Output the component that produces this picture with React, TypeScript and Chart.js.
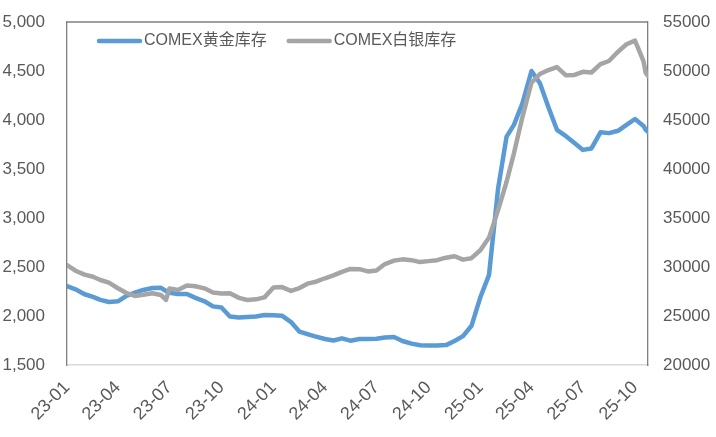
import React, { useEffect, useRef } from 'react';
import { Chart, registerables } from 'chart.js';

Chart.register(...registerables);

// Observation dates (YY-MM-DD)
const dates: string[] = [
  '23-01-01', '23-01-16', '23-02-01', '23-02-16', '23-03-01', '23-03-16',
  '23-04-01', '23-04-16', '23-05-01', '23-05-16', '23-06-01', '23-06-16', '23-06-25',
  '23-07-01', '23-07-16', '23-08-01', '23-08-16', '23-09-01', '23-09-16',
  '23-10-01', '23-10-16', '23-11-01', '23-11-16', '23-12-01', '23-12-16',
  '24-01-01', '24-01-16', '24-02-01', '24-02-16', '24-03-01', '24-03-16',
  '24-04-01', '24-04-16', '24-05-01', '24-05-16', '24-06-01', '24-06-16',
  '24-07-01', '24-07-16', '24-08-01', '24-08-16', '24-09-01', '24-09-16',
  '24-10-01', '24-10-16', '24-11-01', '24-11-16', '24-12-01', '24-12-16',
  '25-01-01', '25-01-16', '25-02-01', '25-02-16', '25-03-01', '25-03-16',
  '25-04-01', '25-04-16', '25-05-01', '25-05-16', '25-06-01', '25-06-16',
  '25-07-01', '25-07-16', '25-08-01', '25-08-16', '25-09-01', '25-09-16',
  '25-10-01', '25-10-16', '25-10-20', '25-10-24',
];

// COMEX gold inventory (left axis)
const goldStock: number[] = [
  2306, 2272, 2222, 2195, 2165, 2143,
  2150, 2205, 2238, 2266, 2286, 2288, 2255,
  2238, 2225, 2225, 2185, 2150, 2098,
  2086, 1995, 1985, 1990, 1995, 2010,
  2008, 2003, 1938, 1840, 1815, 1790,
  1765, 1750, 1772, 1748, 1766, 1766,
  1768, 1780, 1785, 1745, 1718, 1702,
  1698, 1698, 1703, 1745, 1795, 1900,
  2197, 2420, 3300, 3830, 3950, 4170,
  4500, 4374, 4130, 3900, 3835, 3765,
  3695, 3710, 3874, 3866, 3890, 3950,
  4010, 3940, 3900, 3880,
];

// COMEX silver inventory (right axis)
const silverStock: number[] = [
  30200, 29620, 29220, 29000, 28673, 28400,
  27830, 27340, 27041, 27160, 27313, 27143, 26650,
  27800, 27653, 28120, 28030, 27823, 27400,
  27300, 27313, 26850, 26633, 26700, 26900,
  27900, 27950, 27560, 27850, 28300, 28500,
  28850, 29150, 29500, 29800, 29780, 29550,
  29650, 30300, 30650, 30780, 30700, 30500,
  30600, 30700, 30950, 31100, 30750, 30900,
  31735, 33000, 35800, 38700, 41600, 45300,
  48800, 49700, 50100, 50400, 49560, 49600,
  49920, 49850, 50700, 51020, 51969, 52730,
  53100, 51000, 49800, 49500,
];

// Axis tick dates (quarter starts)
const tickDates: string[] = [
  '23-01-01', '23-04-01', '23-07-01', '23-10-01',
  '24-01-01', '24-04-01', '24-07-01', '24-10-01',
  '25-01-01', '25-04-01', '25-07-01', '25-10-01',
];

const seriesNames: string[] = ['COMEX黄金库存', 'COMEX白银库存'];
const seriesColors: string[] = ['#5B9BD5', '#A5A5A5'];

const leftRange: number[] = [1500, 5000, 500];
const rightRange: number[] = [20000, 55000, 5000];

const FONT = "'Liberation Sans', 'Noto Sans CJK SC', Arial, sans-serif";
const TEXT = '#595959';

const dayNum = (s: string): number => {
  const [yy, mm, dd] = s.split('-').map(Number);
  return Date.UTC(2000 + yy, mm - 1, dd) / 86400000;
};

const tickLabelMap = new Map<number, string>(tickDates.map((d) => [dayNum(d), d.slice(0, 5)]));

const framePlugin = {
  id: 'frameAndLegend',
  beforeDatasetsDraw(chart: any) {
    const { ctx, chartArea } = chart;
    ctx.save();
    ctx.strokeStyle = '#808080';
    ctx.lineWidth = 1.3;
    ctx.beginPath();
    ctx.moveTo(chartArea.left, chartArea.top);
    ctx.lineTo(chartArea.right, chartArea.top);
    ctx.stroke();
    ctx.restore();
  },
  afterDraw(chart: any) {
    const { ctx, chartArea } = chart;
    ctx.save();
    ctx.font = `16px ${FONT}`;
    ctx.textBaseline = 'middle';
    ctx.textAlign = 'left';
    let x = chartArea.left + 30;
    const y = chartArea.top + 19;
    chart.data.datasets.forEach((ds: any) => {
      ctx.strokeStyle = ds.borderColor;
      ctx.lineWidth = 4.5;
      ctx.lineCap = 'round';
      ctx.beginPath();
      ctx.moveTo(x + 2, y);
      ctx.lineTo(x + 43, y);
      ctx.stroke();
      ctx.fillStyle = TEXT;
      ctx.fillText(ds.label, x + 47, y);
      x += 47 + ctx.measureText(ds.label).width + 20;
    });
    ctx.restore();
  },
};

export default function App() {
  const ref = useRef<HTMLCanvasElement | null>(null);

  useEffect(() => {
    if (!ref.current) return;
    const xs = dates.map(dayNum);
    const chart = new Chart(ref.current, {
      type: 'line',
      data: {
        datasets: [
          {
            label: seriesNames[0],
            data: goldStock.map((v, i) => ({ x: xs[i], y: v })),
            borderColor: seriesColors[0],
            backgroundColor: seriesColors[0],
            borderWidth: 4.5,
            pointRadius: 0,
            tension: 0,
            yAxisID: 'y',
            order: 1,
            borderJoinStyle: 'round',
            borderCapStyle: 'round',
          },
          {
            label: seriesNames[1],
            data: silverStock.map((v, i) => ({ x: xs[i], y: v })),
            borderColor: seriesColors[1],
            backgroundColor: seriesColors[1],
            borderWidth: 4.5,
            pointRadius: 0,
            tension: 0,
            yAxisID: 'y1',
            order: 0,
            borderJoinStyle: 'round',
            borderCapStyle: 'round',
          },
        ],
      },
      options: {
        animation: false,
        responsive: true,
        maintainAspectRatio: false,
        layout: { padding: { top: 22, left: 0, right: 0, bottom: 0 } },
        plugins: {
          legend: { display: false },
          tooltip: { enabled: false },
        },
        scales: {
          x: {
            type: 'linear',
            min: xs[0],
            max: xs[xs.length - 1],
            grid: { display: false, drawTicks: false },
            border: { display: true, color: '#D9D9D9', width: 1.5 },
            afterBuildTicks: (s: any) => {
              s.ticks = tickDates.map((d) => ({ value: dayNum(d) }));
            },
            ticks: {
              autoSkip: false,
              maxRotation: 45,
              minRotation: 45,
              padding: 12,
              color: TEXT,
              font: { size: 18, family: FONT },
              callback: (v: any) => tickLabelMap.get(Number(v)) ?? '',
            },
            afterFit: (s: any) => {
              s.height = 72;
            },
          },
          y: {
            position: 'left',
            min: leftRange[0],
            max: leftRange[1],
            grid: {
              display: true,
              drawOnChartArea: false,
              drawTicks: true,
              tickLength: 22,
              color: 'rgba(0,0,0,0)',
            },
            border: { display: true, color: '#808080', width: 1.3 },
            ticks: {
              stepSize: leftRange[2],
              padding: 0,
              color: TEXT,
              font: { size: 17, family: FONT },
              callback: (v: any) => Number(v).toLocaleString('en-US'),
            },
            afterFit: (s: any) => {
              s.width = 67;
            },
          },
          y1: {
            position: 'right',
            min: rightRange[0],
            max: rightRange[1],
            grid: {
              display: true,
              drawOnChartArea: false,
              drawTicks: true,
              tickLength: 15,
              color: 'rgba(0,0,0,0)',
            },
            border: { display: true, color: '#808080', width: 1.3 },
            ticks: {
              stepSize: rightRange[2],
              padding: 0,
              color: TEXT,
              font: { size: 17, family: FONT },
              callback: (v: any) => String(v),
            },
            afterFit: (s: any) => {
              s.width = 68;
            },
          },
        },
      },
      plugins: [framePlugin],
    } as any);
    return () => chart.destroy();
  }, []);

  return (
    <div style={{ position: 'fixed', left: 0, top: 0, width: 716, height: 437, background: '#fff' }}>
      <canvas ref={ref} />
    </div>
  );
}
